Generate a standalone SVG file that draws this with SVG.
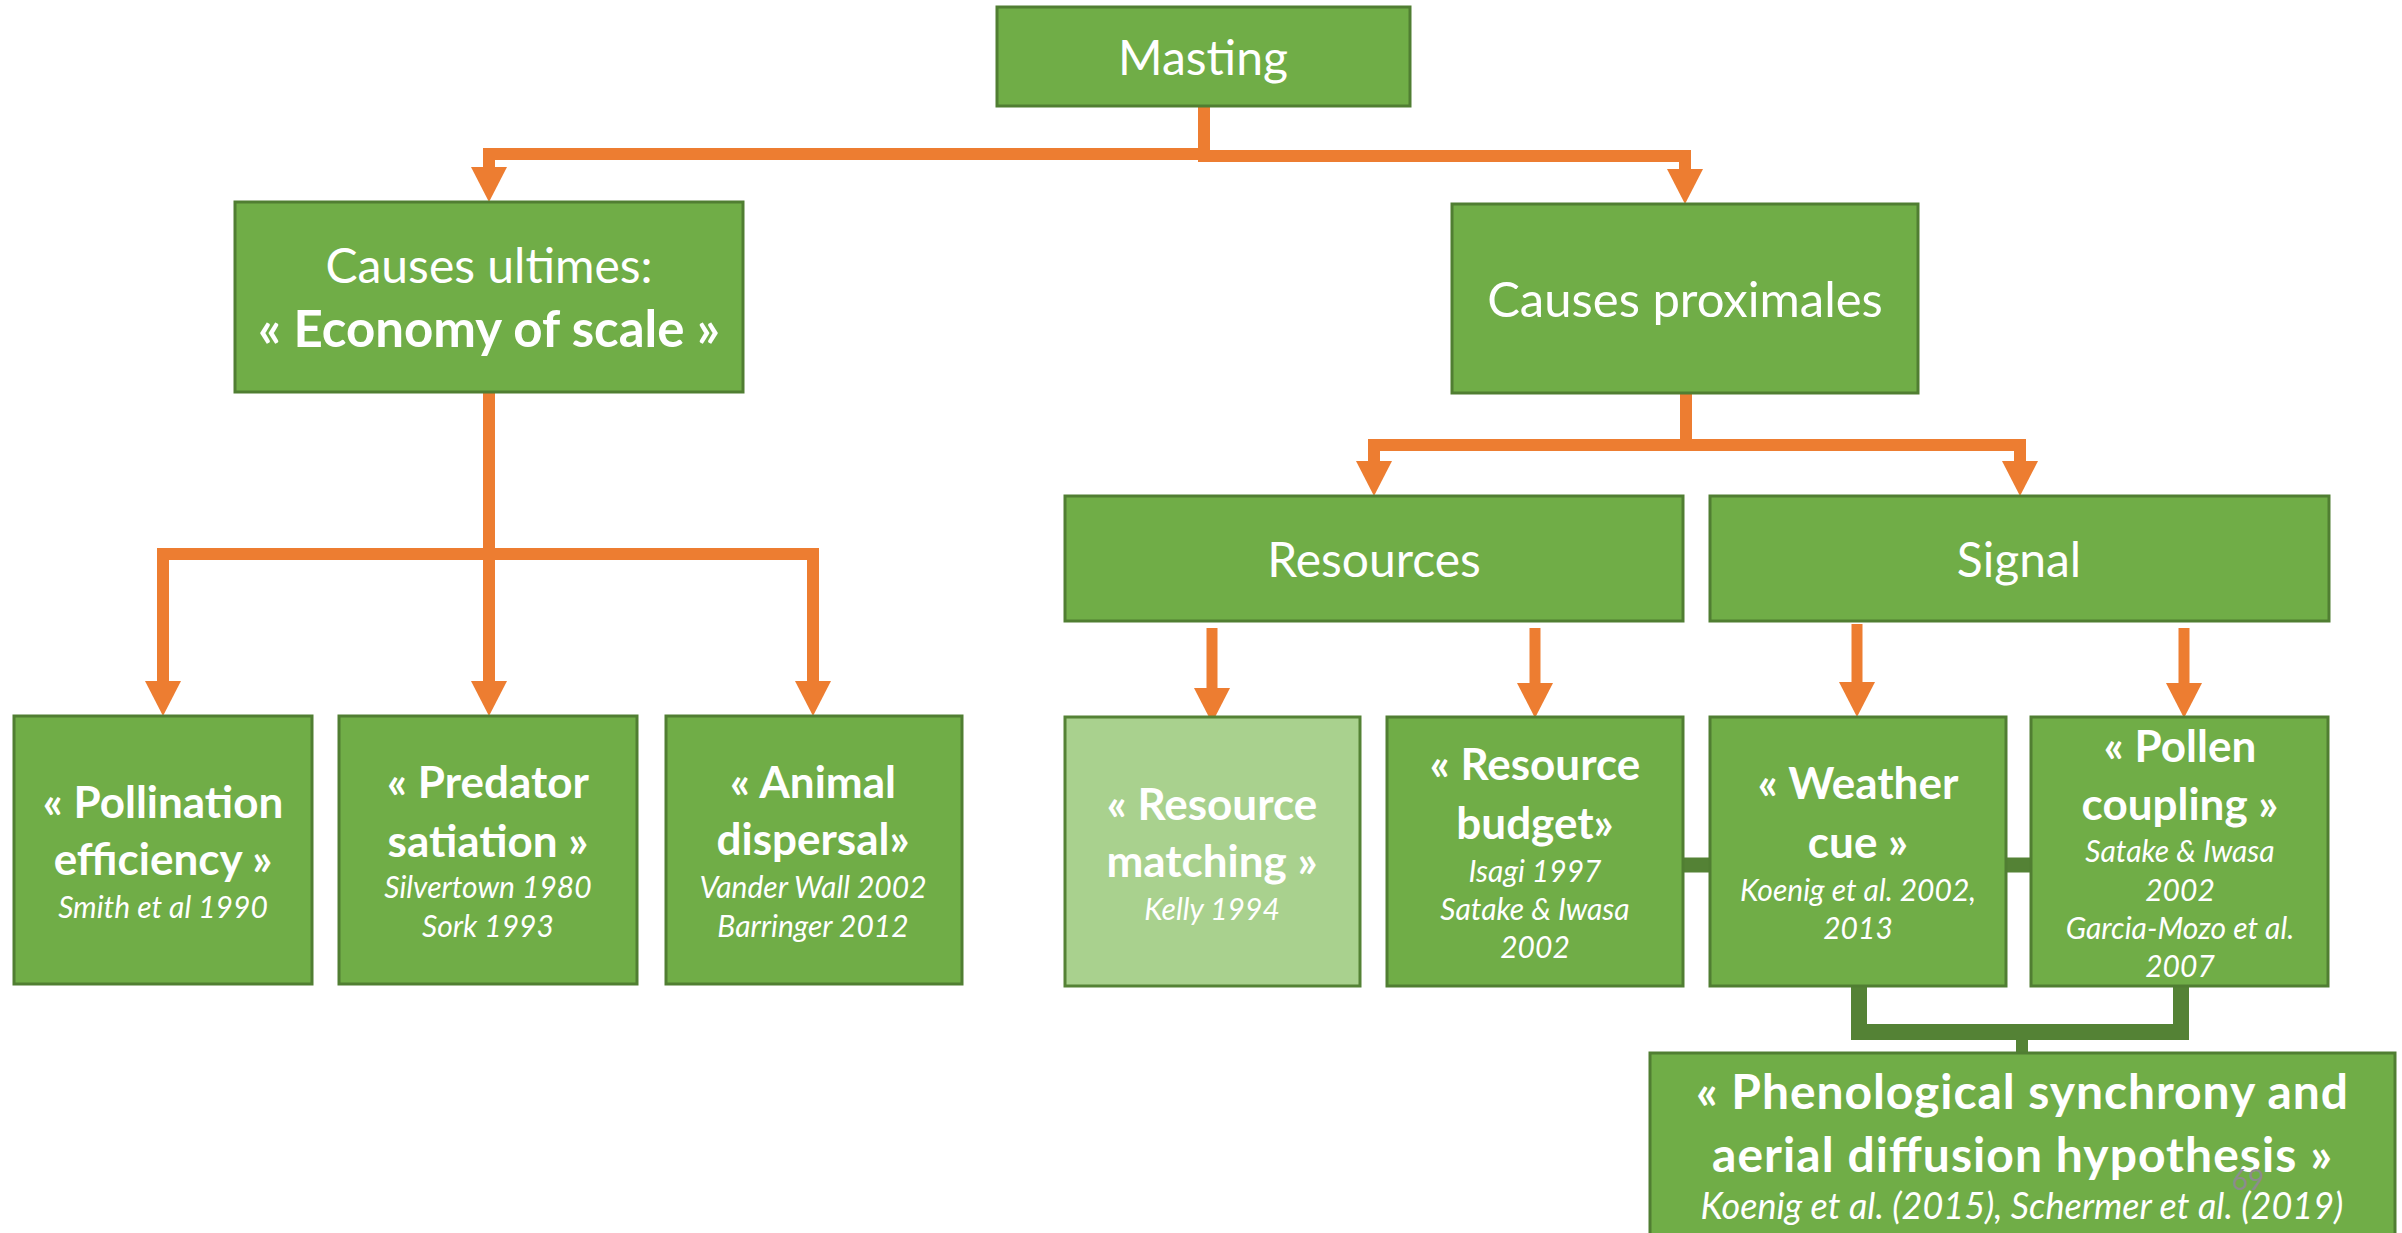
<svg xmlns="http://www.w3.org/2000/svg" width="2402" height="1233" viewBox="0 0 2402 1233">
<style>
.box{fill:#70AD47;stroke:#507E32;stroke-width:3}
.light{fill:#A9D18E;stroke:#548235;stroke-width:3}
text{font-family:Lato,"Liberation Sans",sans-serif;fill:#fff;text-anchor:middle}
.h{font-size:48px}
.b{font-weight:700;font-size:44px}
.i{font-style:italic;font-size:30px}
.o{stroke:#ED7D31;stroke-width:12;fill:none}
.oa{stroke:#ED7D31;stroke-width:11;fill:none}
.g{stroke:#548235;fill:none}
</style>
<defs>
<marker id="ah" markerUnits="userSpaceOnUse" markerWidth="36" markerHeight="36" refX="0" refY="18" orient="auto" overflow="visible">
<path d="M0,0 L35,18 L0,36 z" fill="#ED7D31"/>
</marker>
</defs>
<rect width="2402" height="1233" fill="#fff"/>
<g id="connectors">
<path class="o" d="M1204,106 V154 H489 V167" marker-end="url(#ah)"/>
<path class="o" d="M1204,106 V156 H1685 V169" marker-end="url(#ah)"/>
<path class="o" d="M489,392 V554 H163 V681" marker-end="url(#ah)"/>
<path class="o" d="M489,392 V681" marker-end="url(#ah)"/>
<path class="o" d="M489,392 V554 H813 V681" marker-end="url(#ah)"/>
<path class="o" d="M1686,393 V445 H1374 V461" marker-end="url(#ah)"/>
<path class="o" d="M1686,393 V445 H2020 V461" marker-end="url(#ah)"/>
<path class="oa" d="M1212,628 V688" marker-end="url(#ah)"/>
<path class="oa" d="M1535,628 V683" marker-end="url(#ah)"/>
<path class="oa" d="M1857,624 V682" marker-end="url(#ah)"/>
<path class="oa" d="M2184,628 V683" marker-end="url(#ah)"/>
<path class="g" stroke-width="15" d="M1535,865 H2180"/>
<path class="g" stroke-width="16" d="M1859,986 V1032 H2181 V986"/>
<path class="g" stroke-width="12" d="M2022,1032 V1054"/>
</g>
<g id="masting"><rect class="box" x="997" y="7" width="413" height="99"/><text class="h" x="1203" y="75">Masting</text></g>
<g id="ultimes"><rect class="box" x="235" y="202" width="508" height="190"/><text class="h" x="489" y="283">Causes ultimes:</text><text class="h" style="font-weight:700;font-size:51px" x="489" y="347">« Economy of scale »</text></g>
<g id="proximales"><rect class="box" x="1452" y="204" width="466" height="189"/><text class="h" style="font-size:49px" x="1685" y="317">Causes proximales</text></g>
<g id="resources"><rect class="box" x="1065" y="496" width="618" height="125"/><text class="h" x="1374" y="577">Resources</text></g>
<g id="signal"><rect class="box" x="1710" y="496" width="619" height="125"/><text class="h" x="2019" y="577">Signal</text></g>
<g id="pollination"><rect class="box" x="14" y="716" width="298" height="268"/><text class="b" x="163" y="818">« Pollination</text><text class="b" x="163" y="875">efficiency »</text><text class="i" x="163" y="918">Smith et al 1990</text></g>
<g id="predator"><rect class="box" x="339" y="716" width="298" height="268"/><text class="b" x="488" y="798">« Predator</text><text class="b" x="488" y="857">satiation »</text><text class="i" x="488" y="898">Silvertown 1980</text><text class="i" x="488" y="937">Sork 1993</text></g>
<g id="animal"><rect class="box" x="666" y="716" width="296" height="268"/><text class="b" x="813" y="798">« Animal</text><text class="b" x="813" y="855">dispersal»</text><text class="i" x="813" y="898">Vander Wall 2002</text><text class="i" x="813" y="937">Barringer 2012</text></g>
<g id="matching"><rect class="light" x="1065" y="717" width="295" height="269"/><text class="b" x="1212" y="820">« Resource</text><text class="b" x="1212" y="877">matching »</text><text class="i" x="1212" y="920">Kelly 1994</text></g>
<g id="budget"><rect class="box" x="1387" y="717" width="296" height="269"/><text class="b" x="1535" y="780">« Resource</text><text class="b" x="1535" y="839">budget»</text><text class="i" x="1535" y="882">Isagi 1997</text><text class="i" x="1535" y="920">Satake &amp; Iwasa</text><text class="i" x="1535" y="958">2002</text></g>
<g id="weather"><rect class="box" x="1710" y="717" width="296" height="269"/><text class="b" x="1858" y="799">« Weather</text><text class="b" x="1858" y="858">cue »</text><text class="i" x="1858" y="901">Koenig et al. 2002,</text><text class="i" x="1858" y="939">2013</text></g>
<g id="pollen"><rect class="box" x="2031" y="717" width="297" height="269"/><text class="b" x="2180" y="762">« Pollen</text><text class="b" x="2180" y="820">coupling »</text><text class="i" x="2180" y="862">Satake &amp; Iwasa</text><text class="i" x="2180" y="901">2002</text><text class="i" x="2180" y="939">Garcia-Mozo et al.</text><text class="i" x="2180" y="977">2007</text></g>
<g id="phenological"><rect class="box" x="1650" y="1053" width="745" height="210"/><text class="b" style="font-size:48px" x="2022" y="1109" textLength="652" lengthAdjust="spacing">« Phenological synchrony and</text><text class="b" style="font-size:48px" x="2022" y="1172" textLength="620" lengthAdjust="spacing">aerial diffusion hypothesis »</text><text class="i" style="font-size:36px" x="2022" y="1219">Koenig et al. (2015), Schermer et al. (2019)</text></g>
<text x="2248" y="1190" style="font-size:28px;fill:#8C8C8C">69</text>
</svg>
